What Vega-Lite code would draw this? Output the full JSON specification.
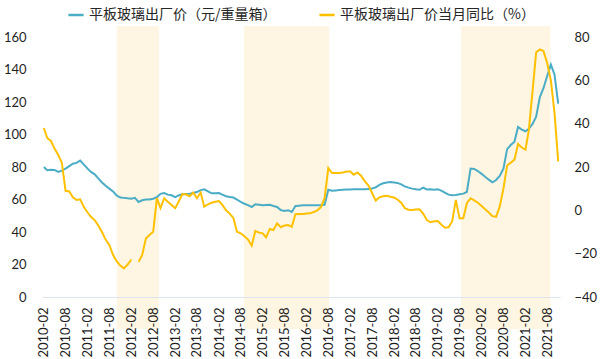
{
  "$schema": "https://vega.github.io/schema/vega-lite/v6.json",
  "width": 518,
  "height": 260,
  "autosize": {"type": "none"},
  "padding": {"left": 42, "top": 37, "right": 40, "bottom": 62},
  "background": "white",
  "config": {"view": {"stroke": null}, "font": "Lato", "axis": {"labelOverlap": false}, "axisX": {"labelOverlap": false, "labelSeparation": 0}},
  "datasets": {
    "main": [
      {"d":"2010-02-01T00:00","p":80,"c":38},
      {"d":"2010-03-01T00:00","p":78,"c":33.4},
      {"d":"2010-04-01T00:00","p":78.3,"c":32},
      {"d":"2010-05-01T00:00","p":78.2,"c":28.5},
      {"d":"2010-06-01T00:00","p":77,"c":25.5},
      {"d":"2010-07-01T00:00","p":77.8,"c":22},
      {"d":"2010-08-01T00:00","p":79,"c":9},
      {"d":"2010-09-01T00:00","p":80.5,"c":8.7},
      {"d":"2010-10-01T00:00","p":82,"c":6},
      {"d":"2010-11-01T00:00","p":82.5,"c":4.8},
      {"d":"2010-12-01T00:00","p":84,"c":5.1},
      {"d":"2011-01-01T00:00","p":81.5,"c":1.5},
      {"d":"2011-02-01T00:00","p":79,"c":-1},
      {"d":"2011-03-01T00:00","p":77,"c":-3},
      {"d":"2011-04-01T00:00","p":75.5,"c":-4.5},
      {"d":"2011-05-01T00:00","p":73,"c":-7},
      {"d":"2011-06-01T00:00","p":70.5,"c":-10},
      {"d":"2011-07-01T00:00","p":68.5,"c":-13.5},
      {"d":"2011-08-01T00:00","p":66.7,"c":-16},
      {"d":"2011-09-01T00:00","p":65,"c":-20.5},
      {"d":"2011-10-01T00:00","p":62.5,"c":-23.5},
      {"d":"2011-11-01T00:00","p":61.2,"c":-25.5},
      {"d":"2011-12-01T00:00","p":61,"c":-26.8},
      {"d":"2012-01-01T00:00","p":60.7,"c":-25},
      {"d":"2012-02-01T00:00","p":60.5,"c":-22.7},
      {"d":"2012-03-01T00:00","p":61,"c":null},
      {"d":"2012-04-01T00:00","p":58.5,"c":-23.8},
      {"d":"2012-05-01T00:00","p":59.5,"c":-20.7},
      {"d":"2012-06-01T00:00","p":60,"c":-13},
      {"d":"2012-07-01T00:00","p":60,"c":-11.4},
      {"d":"2012-08-01T00:00","p":60.5,"c":-9.9},
      {"d":"2012-09-01T00:00","p":61.5,"c":5.6},
      {"d":"2012-10-01T00:00","p":63.5,"c":1},
      {"d":"2012-11-01T00:00","p":64,"c":5.6},
      {"d":"2012-12-01T00:00","p":63,"c":4},
      {"d":"2013-01-01T00:00","p":62.6,"c":2.5},
      {"d":"2013-02-01T00:00","p":61.5,"c":1},
      {"d":"2013-03-01T00:00","p":62.5,"c":4},
      {"d":"2013-04-01T00:00","p":63.2,"c":7.4},
      {"d":"2013-05-01T00:00","p":63.4,"c":7.4},
      {"d":"2013-06-01T00:00","p":63.6,"c":6.5},
      {"d":"2013-07-01T00:00","p":64,"c":8.2},
      {"d":"2013-08-01T00:00","p":64.6,"c":5.6},
      {"d":"2013-09-01T00:00","p":65.8,"c":8.2},
      {"d":"2013-10-01T00:00","p":66.3,"c":1.7},
      {"d":"2013-11-01T00:00","p":65,"c":2.8},
      {"d":"2013-12-01T00:00","p":63.8,"c":3.5},
      {"d":"2014-01-01T00:00","p":63.8,"c":4},
      {"d":"2014-02-01T00:00","p":64,"c":4.3},
      {"d":"2014-03-01T00:00","p":63,"c":2.5},
      {"d":"2014-04-01T00:00","p":62,"c":0},
      {"d":"2014-05-01T00:00","p":61.5,"c":-1.5},
      {"d":"2014-06-01T00:00","p":61.2,"c":-3.5},
      {"d":"2014-07-01T00:00","p":60,"c":-9.9},
      {"d":"2014-08-01T00:00","p":58.5,"c":-10.6},
      {"d":"2014-09-01T00:00","p":57.4,"c":-12},
      {"d":"2014-10-01T00:00","p":56.5,"c":-13.5},
      {"d":"2014-11-01T00:00","p":55.4,"c":-16.3},
      {"d":"2014-12-01T00:00","p":57,"c":-9.5},
      {"d":"2015-01-01T00:00","p":56.8,"c":-10.3},
      {"d":"2015-02-01T00:00","p":56.4,"c":-10.6},
      {"d":"2015-03-01T00:00","p":56.6,"c":-12.5},
      {"d":"2015-04-01T00:00","p":56.8,"c":-8.6},
      {"d":"2015-05-01T00:00","p":56,"c":-9.1},
      {"d":"2015-06-01T00:00","p":55.4,"c":-6},
      {"d":"2015-07-01T00:00","p":53.5,"c":-7.8},
      {"d":"2015-08-01T00:00","p":53,"c":-7},
      {"d":"2015-09-01T00:00","p":53.4,"c":-6.8},
      {"d":"2015-10-01T00:00","p":52.3,"c":-7.6},
      {"d":"2015-11-01T00:00","p":56,"c":-1.8},
      {"d":"2015-12-01T00:00","p":56.2,"c":-1.7},
      {"d":"2016-01-01T00:00","p":56.4,"c":-1.7},
      {"d":"2016-02-01T00:00","p":56.4,"c":-1.5},
      {"d":"2016-03-01T00:00","p":56.4,"c":-1.4},
      {"d":"2016-04-01T00:00","p":56.4,"c":-0.8},
      {"d":"2016-05-01T00:00","p":56.5,"c":0},
      {"d":"2016-06-01T00:00","p":56.6,"c":1.5},
      {"d":"2016-07-01T00:00","p":56.8,"c":5.6},
      {"d":"2016-08-01T00:00","p":66,"c":19.5},
      {"d":"2016-09-01T00:00","p":65.4,"c":17.2},
      {"d":"2016-10-01T00:00","p":65.6,"c":17.2},
      {"d":"2016-11-01T00:00","p":65.8,"c":17.2},
      {"d":"2016-12-01T00:00","p":66,"c":17.5},
      {"d":"2017-01-01T00:00","p":66.1,"c":17.9},
      {"d":"2017-02-01T00:00","p":66.2,"c":17.9},
      {"d":"2017-03-01T00:00","p":66.3,"c":16.4},
      {"d":"2017-04-01T00:00","p":66.3,"c":17.5},
      {"d":"2017-05-01T00:00","p":66.3,"c":16},
      {"d":"2017-06-01T00:00","p":66.3,"c":13.5},
      {"d":"2017-07-01T00:00","p":66.5,"c":11.5},
      {"d":"2017-08-01T00:00","p":66.7,"c":8},
      {"d":"2017-09-01T00:00","p":67.5,"c":4.5},
      {"d":"2017-10-01T00:00","p":69,"c":6},
      {"d":"2017-11-01T00:00","p":70,"c":6.5},
      {"d":"2017-12-01T00:00","p":70.5,"c":6.7},
      {"d":"2018-01-01T00:00","p":70.8,"c":6.3},
      {"d":"2018-02-01T00:00","p":70.5,"c":5.9},
      {"d":"2018-03-01T00:00","p":70.2,"c":5},
      {"d":"2018-04-01T00:00","p":69.3,"c":3.5},
      {"d":"2018-05-01T00:00","p":68.1,"c":1},
      {"d":"2018-06-01T00:00","p":67.3,"c":0.3},
      {"d":"2018-07-01T00:00","p":66.7,"c":0.2},
      {"d":"2018-08-01T00:00","p":66.3,"c":0.4},
      {"d":"2018-09-01T00:00","p":66,"c":0.5},
      {"d":"2018-10-01T00:00","p":67.3,"c":-1.5},
      {"d":"2018-11-01T00:00","p":66.2,"c":-4.5},
      {"d":"2018-12-01T00:00","p":66.3,"c":-5.5},
      {"d":"2019-01-01T00:00","p":66,"c":-5},
      {"d":"2019-02-01T00:00","p":66.3,"c":-4.9},
      {"d":"2019-03-01T00:00","p":65.5,"c":-6.5},
      {"d":"2019-04-01T00:00","p":64.3,"c":-8},
      {"d":"2019-05-01T00:00","p":63,"c":-7.8},
      {"d":"2019-06-01T00:00","p":62.6,"c":-5},
      {"d":"2019-07-01T00:00","p":62.8,"c":4.8},
      {"d":"2019-08-01T00:00","p":63.2,"c":-3.7},
      {"d":"2019-09-01T00:00","p":63.6,"c":-3.7},
      {"d":"2019-10-01T00:00","p":64.6,"c":3.3},
      {"d":"2019-11-01T00:00","p":79,"c":5.6},
      {"d":"2019-12-01T00:00","p":78.8,"c":4.6},
      {"d":"2020-01-01T00:00","p":77.5,"c":3.5},
      {"d":"2020-02-01T00:00","p":75.8,"c":2},
      {"d":"2020-03-01T00:00","p":74,"c":0.5},
      {"d":"2020-04-01T00:00","p":72.2,"c":-1},
      {"d":"2020-05-01T00:00","p":70.6,"c":-2.7},
      {"d":"2020-06-01T00:00","p":72,"c":-3},
      {"d":"2020-07-01T00:00","p":74.5,"c":1.7},
      {"d":"2020-08-01T00:00","p":79,"c":10},
      {"d":"2020-09-01T00:00","p":91,"c":20.7},
      {"d":"2020-10-01T00:00","p":93.5,"c":22},
      {"d":"2020-11-01T00:00","p":95.5,"c":23.4},
      {"d":"2020-12-01T00:00","p":104.6,"c":30.6},
      {"d":"2021-01-01T00:00","p":103,"c":29},
      {"d":"2021-02-01T00:00","p":102,"c":28},
      {"d":"2021-03-01T00:00","p":103.5,"c":37},
      {"d":"2021-04-01T00:00","p":106.5,"c":55},
      {"d":"2021-05-01T00:00","p":111,"c":73},
      {"d":"2021-06-01T00:00","p":123,"c":74.3},
      {"d":"2021-07-01T00:00","p":128.5,"c":73.5},
      {"d":"2021-08-01T00:00","p":136,"c":68},
      {"d":"2021-09-01T00:00","p":143,"c":60},
      {"d":"2021-10-01T00:00","p":137,"c":45},
      {"d":"2021-11-01T00:00","p":119,"c":22.6}
    ]
  },
  "encoding": {
    "x": {"field": "d", "type": "temporal",
      "scale": {"domain": ["2010-01-16T12:00", "2021-11-16T00:00"]},
      "axis": {
        "values": [1265025600000, 1280664000000, 1296561600000, 1312200000000, 1328097600000, 1343822400000, 1359720000000, 1375358400000, 1391256000000, 1406894400000, 1422792000000, 1438430400000, 1454328000000, 1470052800000, 1485950400000, 1501588800000, 1517486400000, 1533124800000, 1549022400000, 1564660800000, 1580558400000, 1596283200000, 1612180800000, 1627819200000],
        "format": "%Y-%m", "labelAngle": -90, "ticks": false, "grid": false,
        "labelPadding": 10, "labelFontSize": 13, "labelColor": "#1F1F1F",
        "labelOverlap": false, "labelBound": false, "labelFlush": false, "labelSeparation": 0,
        "title": null, "domainColor": "#DDE4EE", "domainWidth": 1, "zindex": 1
      }
    }
  },
  "layer": [
    {
      "data": {"values": [
        {"d":"2011-10-02T00:00","e":"2012-09-17T00:00"},
        {"d":"2014-08-28T00:00","e":"2016-08-08T00:00"},
        {"d":"2019-08-13T00:00","e":"2021-08-28T00:00"}
      ]},
      "mark": {"type": "rect", "color": "#FEF6E3"},
      "encoding": {
        "x2": {"field": "e"},
        "y": {"datum": -19.7, "type": "quantitative", "scale": {"domain": [0, 160]}, "axis": null},
        "y2": {"datum": 166.8}
      }
    },
    {
      "data": {"values": [{"v": 40}]},
      "mark": {"type": "rule", "color": "#C8C8C8", "strokeWidth": 1.5},
      "encoding": {
        "x": {"datum": {"year": 2010, "month": 1, "date": 16, "hours": 12}, "type": "temporal"},
        "x2": {"datum": {"year": 2021, "month": 11, "date": 16}},
        "y": {"field": "v", "type": "quantitative", "scale": {"domain": [0, 160]}, "axis": null}
      }
    },
    {
      "data": {"name": "main"},
      "mark": {"type": "line", "strokeWidth": 2},
      "encoding": {
        "y": {"field": "p", "type": "quantitative",
          "scale": {"domain": [0, 160]},
          "axis": {"orient": "left", "values": [0,20,40,60,80,100,120,140,160], "grid": false,
            "domain": false, "ticks": false, "labelPadding": 16, "labelFontSize": 13,
            "labelColor": "#1F1F1F", "title": null}
        },
        "color": {"datum": "平板玻璃出厂价（元/重量箱）", "type": "nominal",
          "scale": {"domain": ["平板玻璃出厂价（元/重量箱）", "平板玻璃出厂价当月同比（%）"], "range": ["#4BACC6", "#FFC000"]},
          "legend": {"orient": "none", "legendX": 25, "legendY": -31, "direction": "horizontal",
            "title": null, "symbolType": "stroke", "symbolStrokeWidth": 2.5, "symbolSize": 230,
            "labelFontSize": 14, "labelFont": "Noto Sans CJK SC", "labelColor": "#262626",
            "labelLimit": 0, "columnPadding": 37, "labelOffset": 4}
        }
      }
    },
    {
      "data": {"name": "main"},
      "mark": {"type": "line", "strokeWidth": 2, "invalid": "break-paths-filter-domains"},
      "encoding": {
        "y": {"field": "c", "type": "quantitative",
          "scale": {"domain": [-40, 80]},
          "axis": {"orient": "right", "values": [-40,-20,0,20,40,60,80], "grid": false,
            "domain": false, "ticks": false, "labelPadding": 14, "labelFontSize": 13,
            "labelColor": "#1F1F1F", "title": null}
        },
        "color": {"datum": "平板玻璃出厂价当月同比（%）", "type": "nominal"}
      }
    }
  ],
  "resolve": {"scale": {"y": "independent"}}
}
